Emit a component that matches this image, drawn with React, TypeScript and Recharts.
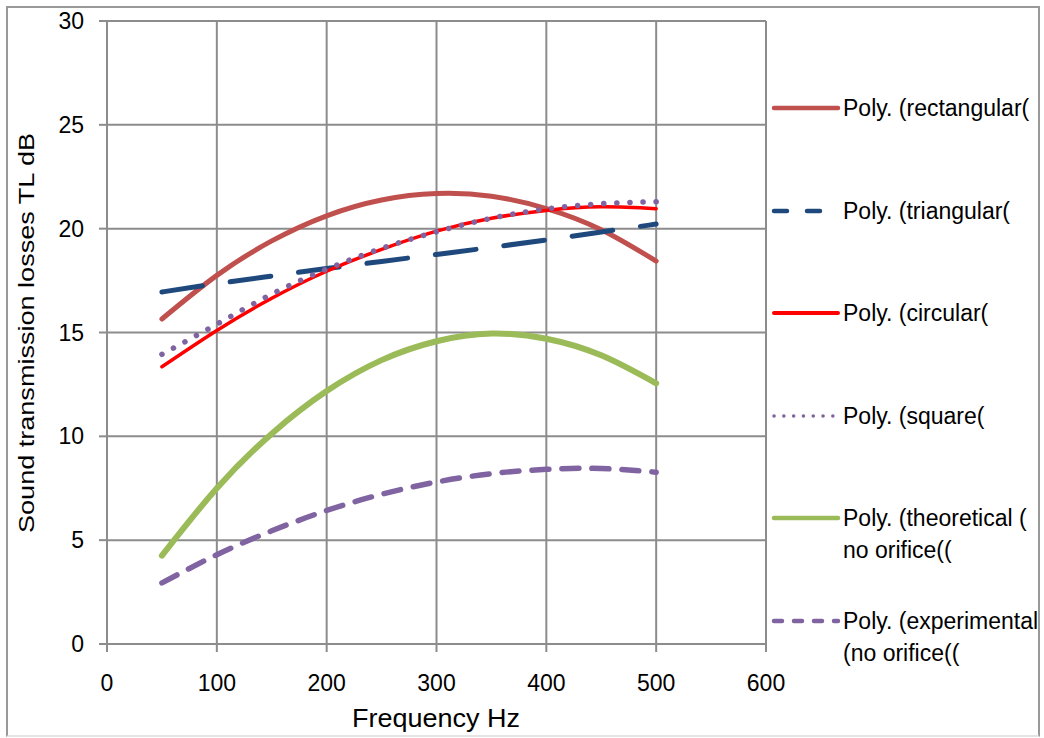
import { LineChart, Line, XAxis, YAxis, CartesianGrid, Legend, Label } from 'recharts';

const frequency = [50, 100, 150, 200, 250, 300, 350, 400, 450, 500];
const rectangular = [15.65, 17.75, 19.41, 20.62, 21.38, 21.69, 21.56, 20.97, 19.95, 18.44];
const triangular = [16.95, 17.35, 17.72, 18.08, 18.42, 18.76, 19.1, 19.46, 19.84, 20.22];
const circular = [13.35, 15.1, 16.65, 17.95, 19.0, 19.88, 20.5, 20.88, 21.05, 20.96];
const square = [13.95, 15.4, 16.85, 18.05, 19.05, 19.85, 20.5, 20.95, 21.2, 21.3];
const theoretical = [4.26, 7.5, 10.13, 12.18, 13.67, 14.58, 14.95, 14.7, 13.9, 12.55];
const experimental = [2.94, 4.3, 5.45, 6.43, 7.21, 7.8, 8.2, 8.41, 8.45, 8.27];

const xTicks = [0, 100, 200, 300, 400, 500, 600];
const yTicks = [0, 5, 10, 15, 20, 25, 30];

const data = frequency.map((f, i) => ({
  f,
  rectangular: rectangular[i],
  triangular: triangular[i],
  circular: circular[i],
  square: square[i],
  theoretical: theoretical[i],
  experimental: experimental[i],
}));

const series = [
  { key: 'rectangular', name: 'Poly. (rectangular(', color: '#C0504D', width: 5, dash: undefined, legendDash: undefined, legendWidth: 4.5 },
  { key: 'triangular', name: 'Poly. (triangular(', color: '#1F497D', width: 5, dash: '41 28', legendDash: '13 20', legendWidth: 4.5 },
  { key: 'circular', name: 'Poly. (circular(', color: '#FF0000', width: 3.5, dash: undefined, legendDash: undefined, legendWidth: 4 },
  { key: 'square', name: 'Poly. (square(', color: '#8064A2', width: 5.5, dash: '0.1 13', legendDash: '0.1 9.7', legendWidth: 3.5 },
  { key: 'theoretical', name: 'Poly. (theoretical (\nno orifice((', color: '#9BBB59', width: 6, dash: undefined, legendDash: undefined, legendWidth: 4.5 },
  { key: 'experimental', name: 'Poly. (experimental\n(no orifice((', color: '#8064A2', width: 5.5, dash: '17 13', legendDash: '8 12', legendWidth: 4.5 },
];

const gridColor = '#8c8c8c';
const font = '"Liberation Sans", Arial, sans-serif';

function LegendBox() {
  return (
    <div style={{ fontFamily: font, fontSize: 23, color: '#000' }}>
      {series.map((s) => (
        <div key={s.key} style={{ height: 102.5, display: 'flex', alignItems: 'flex-start' }}>
          <svg width={72} height={32} style={{ flex: 'none' }}>
            <line
              x1={4}
              x2={68}
              y1={16}
              y2={16}
              stroke={s.color}
              strokeWidth={s.legendWidth}
              strokeDasharray={s.legendDash}
              strokeLinecap="round"
            />
          </svg>
          <div style={{ lineHeight: '32px', whiteSpace: 'pre', marginLeft: 1 }}>{s.name}</div>
        </div>
      ))}
    </div>
  );
}

export default function App() {
  return (
    <div style={{ position: 'absolute', left: 0, top: 0, width: 1044, height: 738, background: '#fff' }}>
      <div
        style={{
          position: 'absolute',
          left: 6,
          top: 6,
          width: 1034,
          height: 731,
          boxSizing: 'border-box',
          border: '2px solid #999',
          borderBottomColor: '#e4e4e4',
        }}
      />
      <LineChart
        width={1044}
        height={738}
        data={data}
        margin={{ top: 21, right: 278, bottom: 0, left: 0 }}
        style={{ position: 'absolute', left: 0, top: 0 }}
      >
        <CartesianGrid stroke={gridColor} strokeWidth={2} horizontalValues={yTicks} verticalValues={xTicks} />
        <XAxis
          dataKey="f"
          type="number"
          domain={[0, 600]}
          ticks={xTicks}
          height={94}
          interval={0}
          stroke={gridColor}
          strokeWidth={2}
          tickSize={8}
          tickMargin={23}
          tick={{ fill: '#000', fontSize: 23, fontFamily: font }}
        >
          <Label
            content={() => (
              <text x={436} y={727} textAnchor="middle" fontSize={26} fontFamily={font} fill="#000" textLength={168} lengthAdjust="spacingAndGlyphs">
                Frequency Hz
              </text>
            )}
          />
        </XAxis>
        <YAxis
          type="number"
          domain={[0, 30]}
          ticks={yTicks}
          width={107}
          interval={0}
          stroke={gridColor}
          strokeWidth={2}
          tickSize={8}
          tickMargin={15}
          tick={{ fill: '#000', fontSize: 23, fontFamily: font }}
        >
          <Label
            content={() => (
              <text
                x={34}
                y={333}
                transform="rotate(-90 34 333)"
                textAnchor="middle"
                fontSize={22}
                fontFamily={font}
                fill="#000"
                textLength={400}
                lengthAdjust="spacingAndGlyphs"
              >
                Sound transmission losses TL dB
              </text>
            )}
          />
        </YAxis>
        <Legend
          layout="vertical"
          align="center"
          verticalAlign="middle"
          wrapperStyle={{ left: 770, top: 92, width: 272 }}
          content={() => <LegendBox />}
        />
        {series.map((s) => (
          <Line
            key={s.key}
            type="natural"
            dataKey={s.key}
            name={s.name}
            stroke={s.color}
            strokeWidth={s.width}
            strokeDasharray={s.dash}
            strokeLinecap="round"
            dot={false}
            activeDot={false}
            isAnimationActive={false}
          />
        ))}
      </LineChart>
    </div>
  );
}
